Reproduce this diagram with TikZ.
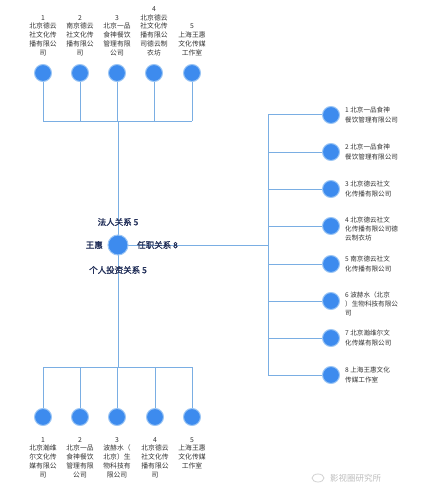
\documentclass[tikz,border=0pt]{standalone}
\usepackage{fontspec}
\newfontfamily\cjk{Noto Sans CJK SC}
\newfontfamily\cjkb[FakeBold=1.5]{Noto Sans CJK SC}
\definecolor{lineblue}{HTML}{7AAEE3}
\definecolor{dotblue}{HTML}{3D8BEE}
\definecolor{dotrim}{HTML}{9CC6F5}
\definecolor{txtgray}{HTML}{333333}
\definecolor{txtnavy}{HTML}{23305A}
\tikzset{
  dot/.style={circle,fill=dotblue,draw=dotrim,line width=1pt,minimum size=17pt,inner sep=0pt},
  bigdot/.style={circle,fill=dotblue,draw=dotrim,line width=1pt,minimum size=20pt,inner sep=0pt},
  conn/.style={draw=lineblue,line width=1pt},
  lab/.style={font=\cjk\fontsize{6.8}{8.8}\selectfont,text=txtgray,align=center,inner sep=0pt},
  rlab/.style={font=\cjk\fontsize{6.6}{9.2}\selectfont,text=txtgray,align=left,inner sep=0pt,anchor=west},
  rel/.style={font=\cjkb\fontsize{8.5}{10}\selectfont,text=txtnavy,inner sep=0pt}
}
\begin{document}
\begin{tikzpicture}[x=1pt,y=-1pt]
\useasboundingbox[fill=white] (0,0) rectangle (424,500);
% coordinates
\coordinate (tbL) at (43,121);
\coordinate (tbR) at (192,121);
\coordinate (tbM) at (118,121);
\coordinate (bbL) at (43,367);
\coordinate (bbR) at (192,367);
\coordinate (bbM) at (118,367);
\coordinate (rv1) at (268,115);
\coordinate (rv8) at (268,375);
\coordinate (rvm) at (268,245);
% lines
\draw[conn] (tbL) -- (tbR);
\draw[conn] (bbL) -- (bbR);
\draw[conn] (tbM) -- (bbM);
\draw[conn] (rv1) -- (rv8);
\draw[conn] (118,245) -- (rvm);
% top
\foreach \i/\x in {1/43,2/80,3/117,4/154,5/192}{
  \node[dot] (t\i) at (\x,73) {};
  \coordinate (tb\i) at (\x,121);
  \draw[conn] (t\i) -- (tb\i);
}
\node[lab,anchor=south] (tl1) at (43,56) {1\\北京德云\\社文化传\\播有限公\\司};
\node[lab,anchor=south] (tl2) at (80,56) {2\\南京德云\\社文化传\\播有限公\\司};
\node[lab,anchor=south] (tl3) at (117,56) {3\\北京一品\\食神餐饮\\管理有限\\公司};
\node[lab,anchor=south] (tl4) at (154,56) {4\\北京德云\\社文化传\\播有限公\\司德云制\\衣坊};
\node[lab,anchor=south] (tl5) at (192,56) {5\\上海王惠\\文化传媒\\工作室};
% bottom
\foreach \i/\x in {1/43,2/80,3/117,4/155,5/192}{
  \node[dot] (b\i) at (\x,417) {};
  \coordinate (bb\i) at (\x,367);
  \draw[conn] (b\i) -- (bb\i);
}
\node[lab,anchor=north] (bl1) at (43,437) {1\\北京瀚维\\尔文化传\\媒有限公\\司};
\node[lab,anchor=north] (bl2) at (80,437) {2\\北京一品\\食神餐饮\\管理有限\\公司};
\node[lab,anchor=north] (bl3) at (117,437) {3\\波赫水（\\北京）生\\物科技有\\限公司};
\node[lab,anchor=north] (bl4) at (155,437) {4\\北京德云\\社文化传\\播有限公\\司};
\node[lab,anchor=north] (bl5) at (192,437) {5\\上海王惠\\文化传媒\\工作室};
% right
\foreach \i/\y in {1/115,2/152,3/189,4/226,5/264,6/301,7/338,8/375}{
  \node[dot] (r\i) at (331,\y) {};
  \coordinate (rc\i) at (268,\y);
  \draw[conn] (rc\i) -- (r\i);
}
\node[rlab] (rl1) at (345,115) {1 北京一品食神\\餐饮管理有限公司};
\node[rlab] (rl2) at (345,152) {2 北京一品食神\\餐饮管理有限公司};
\node[rlab] (rl3) at (345,189) {3 北京德云社文\\化传播有限公司};
\node[rlab] (rl4) at (345,229) {4 北京德云社文\\化传播有限公司德\\云制衣坊};
\node[rlab] (rl5) at (345,264) {5 南京德云社文\\化传播有限公司};
\node[rlab] (rl6) at (345,304) {6 波赫水（北京\\）生物科技有限公\\司};
\node[rlab] (rl7) at (345,338) {7 北京瀚维尔文\\化传媒有限公司};
\node[rlab] (rl8) at (345,375) {8 上海王惠文化\\传媒工作室};
% center
\node[bigdot] (c) at (118,245) {};
\node[rel] (n1) at (118,222) {法人关系 5};
\node[rel,anchor=east] (n2) at (103,245) {王惠};
\node[rel,anchor=west] (n3) at (137,245) {任职关系 8};
\node[rel] (n4) at (118,270) {个人投资关系 5};
% watermark
\node[font=\cjk\fontsize{8.5}{10}\selectfont,text=black!25,anchor=west,inner sep=0pt] (wm) at (330,478) {影视圈研究所};
\draw[black!18,line width=0.8pt] (318,478) ellipse (6pt and 4pt);
\end{tikzpicture}
\end{document}
